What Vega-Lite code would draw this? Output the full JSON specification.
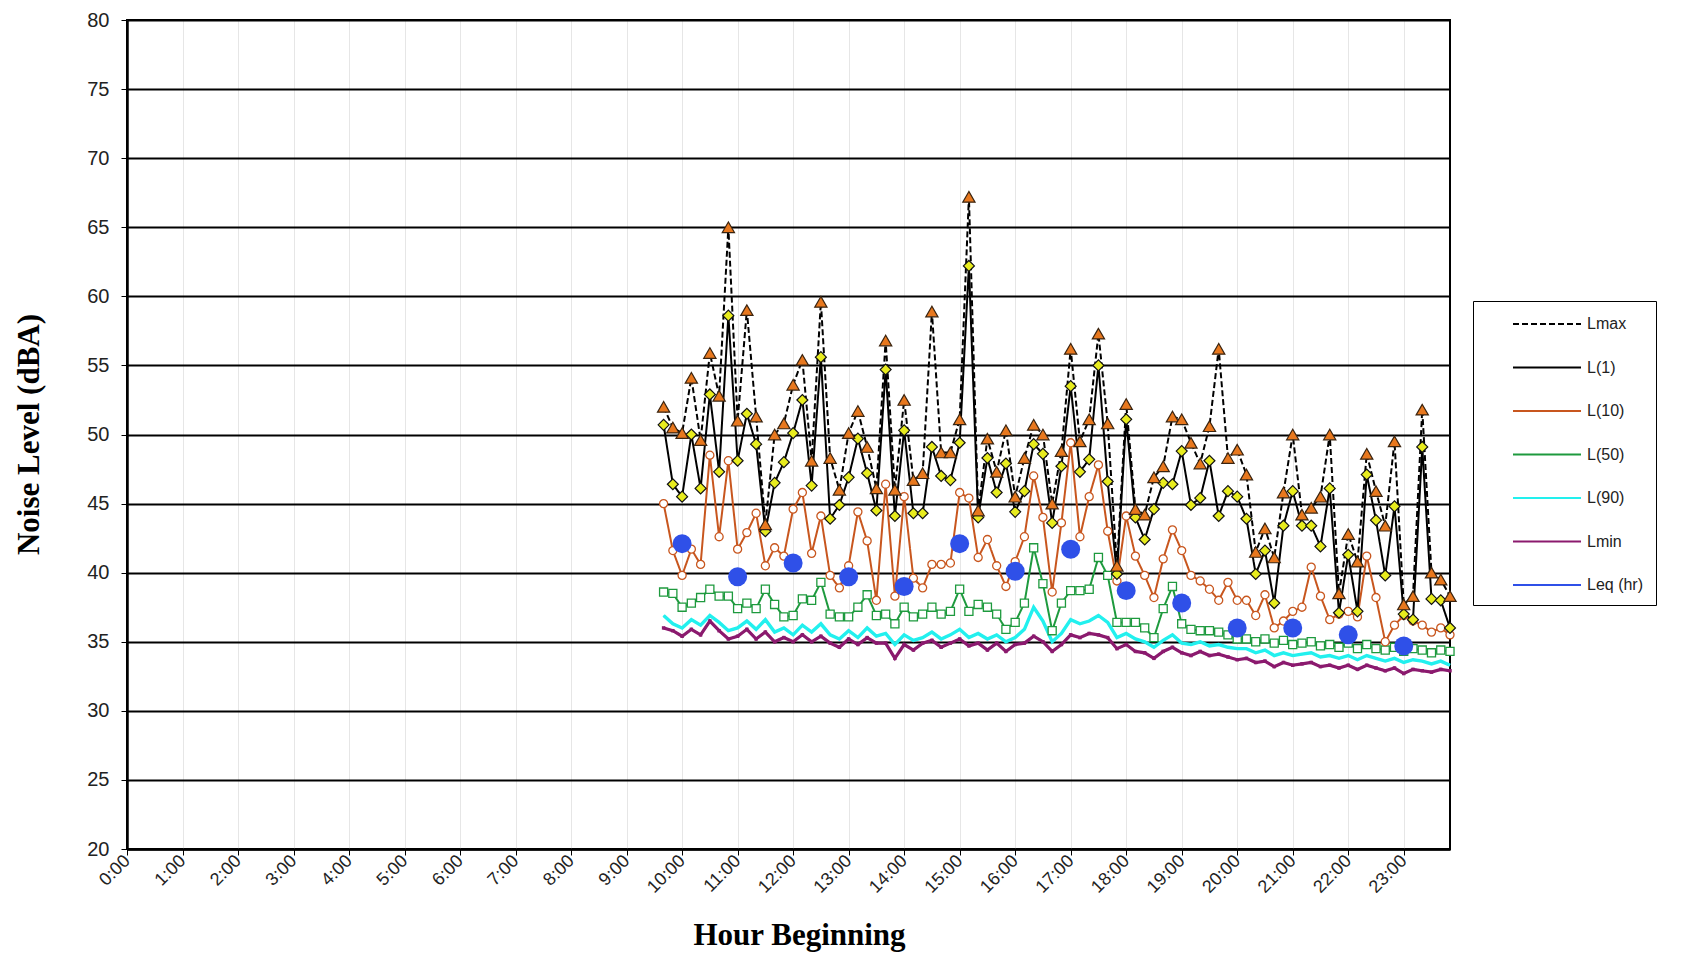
{
  "$schema": "https://vega.github.io/schema/vega-lite/v6.json",
  "width": 1323,
  "height": 829,
  "autosize": "none",
  "padding": {"left": 127, "top": 20, "right": 240, "bottom": 108},
  "background": "white",
  "config": {
    "view": {"stroke": "black", "strokeWidth": 2}
  },
  "datasets": {
    "levels": [
      {"minute": 580, "Lmax": 52.0, "L1": 50.7, "L10": 45.0, "L50": 38.6, "L90": 36.9, "Lmin": 36.0},
      {"minute": 590, "Lmax": 50.5, "L1": 46.4, "L10": 41.6, "L50": 38.5, "L90": 36.3, "Lmin": 35.8},
      {"minute": 600, "Lmax": 50.1, "L1": 45.5, "L10": 39.8, "L50": 37.5, "L90": 36.0, "Lmin": 35.4},
      {"minute": 610, "Lmax": 54.1, "L1": 50.0, "L10": 41.7, "L50": 37.8, "L90": 36.6, "Lmin": 35.9},
      {"minute": 620, "Lmax": 49.6, "L1": 46.1, "L10": 40.6, "L50": 38.2, "L90": 36.2, "Lmin": 35.5},
      {"minute": 630, "Lmax": 55.9, "L1": 52.9, "L10": 48.5, "L50": 38.8, "L90": 36.9, "Lmin": 36.5},
      {"minute": 640, "Lmax": 52.8, "L1": 47.3, "L10": 42.6, "L50": 38.3, "L90": 36.4, "Lmin": 35.8},
      {"minute": 650, "Lmax": 65.0, "L1": 58.6, "L10": 48.1, "L50": 38.3, "L90": 35.8, "Lmin": 35.2},
      {"minute": 660, "Lmax": 51.0, "L1": 48.1, "L10": 41.7, "L50": 37.4, "L90": 36.0, "Lmin": 35.4},
      {"minute": 670, "Lmax": 59.0, "L1": 51.5, "L10": 42.9, "L50": 37.8, "L90": 36.5, "Lmin": 35.9},
      {"minute": 680, "Lmax": 51.3, "L1": 49.3, "L10": 44.3, "L50": 37.4, "L90": 35.9, "Lmin": 35.2},
      {"minute": 690, "Lmax": 43.5, "L1": 43.0, "L10": 40.5, "L50": 38.8, "L90": 36.6, "Lmin": 35.7},
      {"minute": 700, "Lmax": 50.0, "L1": 46.5, "L10": 41.8, "L50": 37.7, "L90": 35.7, "Lmin": 35.0},
      {"minute": 710, "Lmax": 50.8, "L1": 48.0, "L10": 41.2, "L50": 36.8, "L90": 36.0, "Lmin": 35.3},
      {"minute": 720, "Lmax": 53.6, "L1": 50.1, "L10": 44.6, "L50": 36.9, "L90": 35.5, "Lmin": 35.0},
      {"minute": 730, "Lmax": 55.4, "L1": 52.5, "L10": 45.8, "L50": 38.1, "L90": 36.2, "Lmin": 35.5},
      {"minute": 740, "Lmax": 48.1, "L1": 46.3, "L10": 41.4, "L50": 38.0, "L90": 35.7, "Lmin": 35.0},
      {"minute": 750, "Lmax": 59.6, "L1": 55.6, "L10": 44.1, "L50": 39.3, "L90": 36.3, "Lmin": 35.4},
      {"minute": 760, "Lmax": 48.3, "L1": 43.9, "L10": 39.8, "L50": 37.0, "L90": 35.5, "Lmin": 34.9},
      {"minute": 770, "Lmax": 46.0, "L1": 44.9, "L10": 38.9, "L50": 36.8, "L90": 35.2, "Lmin": 34.6},
      {"minute": 780, "Lmax": 50.1, "L1": 46.9, "L10": 40.5, "L50": 36.8, "L90": 35.8, "Lmin": 35.2},
      {"minute": 790, "Lmax": 51.7, "L1": 49.7, "L10": 44.4, "L50": 37.5, "L90": 35.3, "Lmin": 34.8},
      {"minute": 800, "Lmax": 49.1, "L1": 47.2, "L10": 42.3, "L50": 38.4, "L90": 36.0, "Lmin": 35.3},
      {"minute": 810, "Lmax": 46.1, "L1": 44.5, "L10": 38.0, "L50": 36.9, "L90": 35.4, "Lmin": 34.9},
      {"minute": 820, "Lmax": 56.8, "L1": 54.7, "L10": 46.4, "L50": 37.0, "L90": 35.6, "Lmin": 34.9},
      {"minute": 830, "Lmax": 46.0, "L1": 44.1, "L10": 38.3, "L50": 36.3, "L90": 34.8, "Lmin": 33.8},
      {"minute": 840, "Lmax": 52.5, "L1": 50.3, "L10": 45.5, "L50": 37.5, "L90": 35.5, "Lmin": 34.8},
      {"minute": 850, "Lmax": 46.7, "L1": 44.3, "L10": 39.6, "L50": 36.8, "L90": 35.1, "Lmin": 34.4},
      {"minute": 860, "Lmax": 47.2, "L1": 44.3, "L10": 38.9, "L50": 37.0, "L90": 35.3, "Lmin": 34.9},
      {"minute": 870, "Lmax": 58.9, "L1": 49.1, "L10": 40.6, "L50": 37.5, "L90": 35.7, "Lmin": 35.1},
      {"minute": 880, "Lmax": 48.7, "L1": 47.0, "L10": 40.6, "L50": 37.0, "L90": 35.2, "Lmin": 34.6},
      {"minute": 890, "Lmax": 48.7, "L1": 46.7, "L10": 40.7, "L50": 37.2, "L90": 35.5, "Lmin": 34.9},
      {"minute": 900, "Lmax": 51.1, "L1": 49.4, "L10": 45.8, "L50": 38.8, "L90": 35.9, "Lmin": 35.2},
      {"minute": 910, "Lmax": 67.2, "L1": 62.2, "L10": 45.4, "L50": 37.2, "L90": 35.3, "Lmin": 34.7},
      {"minute": 920, "Lmax": 44.5, "L1": 44.0, "L10": 41.1, "L50": 37.7, "L90": 35.6, "Lmin": 34.9},
      {"minute": 930, "Lmax": 49.7, "L1": 48.3, "L10": 42.4, "L50": 37.5, "L90": 35.2, "Lmin": 34.4},
      {"minute": 940, "Lmax": 47.3, "L1": 45.8, "L10": 40.5, "L50": 37.0, "L90": 35.5, "Lmin": 34.9},
      {"minute": 950, "Lmax": 50.3, "L1": 47.9, "L10": 39.0, "L50": 35.9, "L90": 35.0, "Lmin": 34.3},
      {"minute": 960, "Lmax": 45.5, "L1": 44.4, "L10": 40.8, "L50": 36.4, "L90": 35.3, "Lmin": 34.8},
      {"minute": 970, "Lmax": 48.3, "L1": 45.9, "L10": 42.6, "L50": 37.8, "L90": 35.9, "Lmin": 34.9},
      {"minute": 980, "Lmax": 50.7, "L1": 49.3, "L10": 47.0, "L50": 41.8, "L90": 37.5, "Lmin": 35.4},
      {"minute": 990, "Lmax": 50.0, "L1": 48.6, "L10": 44.0, "L50": 39.2, "L90": 36.5, "Lmin": 35.0},
      {"minute": 1000, "Lmax": 45.0, "L1": 43.6, "L10": 38.6, "L50": 35.8, "L90": 35.0, "Lmin": 34.3},
      {"minute": 1010, "Lmax": 48.8, "L1": 47.7, "L10": 43.6, "L50": 37.8, "L90": 35.6, "Lmin": 34.8},
      {"minute": 1020, "Lmax": 56.2, "L1": 53.5, "L10": 49.4, "L50": 38.7, "L90": 36.6, "Lmin": 35.5},
      {"minute": 1030, "Lmax": 49.5, "L1": 47.3, "L10": 42.6, "L50": 38.7, "L90": 36.3, "Lmin": 35.3},
      {"minute": 1040, "Lmax": 51.1, "L1": 48.2, "L10": 45.5, "L50": 38.8, "L90": 36.5, "Lmin": 35.6},
      {"minute": 1050, "Lmax": 57.3, "L1": 55.0, "L10": 47.8, "L50": 41.1, "L90": 36.9, "Lmin": 35.5},
      {"minute": 1060, "Lmax": 50.8, "L1": 46.6, "L10": 43.0, "L50": 39.8, "L90": 36.4, "Lmin": 35.3},
      {"minute": 1070, "Lmax": 40.5, "L1": 39.9, "L10": 39.4, "L50": 36.4, "L90": 35.3, "Lmin": 34.5},
      {"minute": 1080, "Lmax": 52.2, "L1": 51.1, "L10": 44.1, "L50": 36.4, "L90": 35.6, "Lmin": 34.8},
      {"minute": 1090, "Lmax": 44.6, "L1": 44.0, "L10": 41.2, "L50": 36.4, "L90": 35.2, "Lmin": 34.3},
      {"minute": 1100, "Lmax": 44.2, "L1": 42.4, "L10": 39.8, "L50": 36.0, "L90": 35.0, "Lmin": 34.2},
      {"minute": 1110, "Lmax": 46.9, "L1": 44.6, "L10": 38.2, "L50": 35.3, "L90": 34.6, "Lmin": 33.8},
      {"minute": 1120, "Lmax": 47.7, "L1": 46.5, "L10": 41.0, "L50": 37.4, "L90": 35.1, "Lmin": 34.3},
      {"minute": 1130, "Lmax": 51.3, "L1": 46.4, "L10": 43.1, "L50": 39.0, "L90": 35.5, "Lmin": 34.6},
      {"minute": 1140, "Lmax": 51.1, "L1": 48.8, "L10": 41.6, "L50": 36.3, "L90": 34.9, "Lmin": 34.2},
      {"minute": 1150, "Lmax": 49.4, "L1": 44.9, "L10": 39.8, "L50": 35.9, "L90": 34.8, "Lmin": 34.0},
      {"minute": 1160, "Lmax": 47.9, "L1": 45.4, "L10": 39.4, "L50": 35.8, "L90": 35.0, "Lmin": 34.3},
      {"minute": 1170, "Lmax": 50.6, "L1": 48.1, "L10": 38.8, "L50": 35.8, "L90": 34.7, "Lmin": 34.0},
      {"minute": 1180, "Lmax": 56.2, "L1": 44.1, "L10": 38.0, "L50": 35.7, "L90": 34.8, "Lmin": 34.1},
      {"minute": 1190, "Lmax": 48.3, "L1": 45.9, "L10": 39.3, "L50": 35.5, "L90": 34.6, "Lmin": 33.9},
      {"minute": 1200, "Lmax": 48.9, "L1": 45.5, "L10": 38.0, "L50": 35.2, "L90": 34.5, "Lmin": 33.7},
      {"minute": 1210, "Lmax": 47.1, "L1": 43.9, "L10": 38.0, "L50": 35.2, "L90": 34.5, "Lmin": 33.8},
      {"minute": 1220, "Lmax": 41.5, "L1": 39.9, "L10": 36.9, "L50": 35.0, "L90": 34.2, "Lmin": 33.5},
      {"minute": 1230, "Lmax": 43.2, "L1": 41.6, "L10": 38.4, "L50": 35.2, "L90": 34.4, "Lmin": 33.6},
      {"minute": 1240, "Lmax": 41.1, "L1": 37.8, "L10": 36.0, "L50": 34.9, "L90": 34.0, "Lmin": 33.2},
      {"minute": 1250, "Lmax": 45.8, "L1": 43.4, "L10": 36.5, "L50": 35.1, "L90": 34.2, "Lmin": 33.5},
      {"minute": 1260, "Lmax": 50.0, "L1": 45.9, "L10": 37.2, "L50": 34.8, "L90": 34.0, "Lmin": 33.3},
      {"minute": 1270, "Lmax": 44.2, "L1": 43.4, "L10": 37.5, "L50": 34.9, "L90": 34.1, "Lmin": 33.4},
      {"minute": 1280, "Lmax": 44.7, "L1": 43.4, "L10": 40.4, "L50": 35.0, "L90": 34.2, "Lmin": 33.5},
      {"minute": 1290, "Lmax": 45.5, "L1": 41.9, "L10": 38.3, "L50": 34.7, "L90": 33.9, "Lmin": 33.2},
      {"minute": 1300, "Lmax": 50.0, "L1": 46.1, "L10": 36.6, "L50": 34.8, "L90": 34.0, "Lmin": 33.3},
      {"minute": 1310, "Lmax": 38.5, "L1": 37.1, "L10": 37.0, "L50": 34.6, "L90": 33.8, "Lmin": 33.1},
      {"minute": 1320, "Lmax": 42.8, "L1": 41.3, "L10": 37.2, "L50": 34.9, "L90": 34.0, "Lmin": 33.3},
      {"minute": 1330, "Lmax": 40.8, "L1": 37.2, "L10": 36.8, "L50": 34.5, "L90": 33.7, "Lmin": 33.0},
      {"minute": 1340, "Lmax": 48.6, "L1": 47.1, "L10": 41.2, "L50": 34.8, "L90": 34.0, "Lmin": 33.3},
      {"minute": 1350, "Lmax": 45.9, "L1": 43.8, "L10": 38.2, "L50": 34.5, "L90": 33.8, "Lmin": 33.1},
      {"minute": 1360, "Lmax": 43.4, "L1": 39.8, "L10": 35.0, "L50": 34.4, "L90": 33.6, "Lmin": 32.9},
      {"minute": 1370, "Lmax": 49.5, "L1": 44.8, "L10": 36.2, "L50": 34.6, "L90": 33.8, "Lmin": 33.1},
      {"minute": 1380, "Lmax": 37.7, "L1": 37.0, "L10": 36.9, "L50": 34.3, "L90": 33.5, "Lmin": 32.7},
      {"minute": 1390, "Lmax": 38.3, "L1": 36.6, "L10": 36.5, "L50": 34.5, "L90": 33.7, "Lmin": 33.0},
      {"minute": 1400, "Lmax": 51.8, "L1": 49.1, "L10": 36.2, "L50": 34.4, "L90": 33.6, "Lmin": 32.9},
      {"minute": 1410, "Lmax": 40.0, "L1": 38.1, "L10": 35.7, "L50": 34.2, "L90": 33.4, "Lmin": 32.8},
      {"minute": 1420, "Lmax": 39.5, "L1": 38.0, "L10": 36.0, "L50": 34.4, "L90": 33.6, "Lmin": 33.0},
      {"minute": 1430, "Lmax": 38.3, "L1": 36.0, "L10": 35.5, "L50": 34.3, "L90": 33.3, "Lmin": 32.9}
    ],
    "leq": [
      {"minute": 600, "Leq": 42.1},
      {"minute": 660, "Leq": 39.7},
      {"minute": 720, "Leq": 40.7},
      {"minute": 780, "Leq": 39.7},
      {"minute": 840, "Leq": 39.0},
      {"minute": 900, "Leq": 42.1},
      {"minute": 960, "Leq": 40.1},
      {"minute": 1020, "Leq": 41.7},
      {"minute": 1080, "Leq": 38.7},
      {"minute": 1140, "Leq": 37.8},
      {"minute": 1200, "Leq": 36.0},
      {"minute": 1260, "Leq": 36.0},
      {"minute": 1320, "Leq": 35.5},
      {"minute": 1380, "Leq": 34.7}
    ]
  },
  "data": {"name": "levels"},
  "encoding": {
    "x": {
      "field": "minute",
      "type": "quantitative",
      "title": "Hour Beginning",
      "scale": {"domain": [0, 1430], "nice": false, "zero": false},
      "axis": {
        "values": [0, 60, 120, 180, 240, 300, 360, 420, 480, 540, 600, 660, 720, 780, 840, 900, 960, 1020, 1080, 1140, 1200, 1260, 1320, 1380],
        "labelExpr": "floor(datum.value / 60) + ':00'",
        "labelAngle": -45,
        "labelAlign": "right",
        "labelBaseline": "middle",
        "labelFont": "Liberation Sans",
        "labelFontSize": 18,
        "labelColor": "#222222",
        "labelPadding": 3,
        "labelFlush": false,
        "labelOverlap": false,
        "tickColor": "black",
        "tickSize": 6,
        "domainColor": "black",
        "domainWidth": 2.5,
        "grid": true,
        "gridColor": "#e6e6e6",
        "titleFont": "Liberation Serif",
        "titleFontSize": 31,
        "titleFontWeight": "bold",
        "titleColor": "black",
        "titleX": 672,
        "titleY": 86,
        "titleAlign": "center",
        "titleBaseline": "middle"
      }
    },
    "y": {
      "field": "level",
      "type": "quantitative",
      "title": "Noise Level (dBA)",
      "scale": {"domain": [20, 80], "nice": false, "zero": false},
      "axis": {
        "values": [20, 25, 30, 35, 40, 45, 50, 55, 60, 65, 70, 75, 80],
        "labelFont": "Liberation Sans",
        "labelFontSize": 20,
        "labelColor": "#222222",
        "labelPadding": 12,
        "tickColor": "black",
        "tickSize": 6,
        "domainColor": "black",
        "domainWidth": 2.5,
        "grid": true,
        "gridColor": "black",
        "gridWidth": 2.2,
        "titleFont": "Liberation Serif",
        "titleFontSize": 31,
        "titleFontWeight": "bold",
        "titleColor": "black",
        "titleAngle": -90,
        "titleX": -98,
        "titleY": 414,
        "titleAlign": "center",
        "titleBaseline": "middle"
      }
    }
  },
  "layer": [
    {
      "transform": [{"fold": ["Lmin", "L90", "L50", "L10", "L1", "Lmax"], "as": ["series", "level"]}],
      "mark": {"type": "line", "strokeWidth": 2},
      "encoding": {
        "stroke": {
          "field": "series",
          "type": "nominal",
          "scale": {
            "domain": ["Lmax", "L1", "L10", "L50", "L90", "Lmin", "Leq (hr)"],
            "range": ["#000000", "#000000", "#C8561E", "#1E9A3E", "#22F0EE", "#8B1A6E", "#2F50E8"]
          },
          "legend": {
            "orient": "none",
            "legendX": 1346,
            "legendY": 281,
            "title": null,
            "strokeColor": "black",
            "fillColor": "white",
            "padding": 12,
            "symbolSize": 400,
            "rowPadding": 24.5,
            "symbolOffset": 51,
            "labelOffset": 29,
            "labelFont": "Liberation Sans",
            "labelFontSize": 16,
            "labelColor": "#222222",
            "symbolStrokeWidth": 2,
            "symbolType": "M-3.4,0H3.4",
            "labelExpr": "datum.label === 'L1' ? 'L(1)' : datum.label === 'L10' ? 'L(10)' : datum.label === 'L50' ? 'L(50)' : datum.label === 'L90' ? 'L(90)' : datum.label"
          }
        },
        "strokeDash": {
          "field": "series",
          "type": "nominal",
          "scale": {
            "domain": ["Lmax", "L1", "L10", "L50", "L90", "Lmin", "Leq (hr)"],
            "range": [[6, 3], [1, 0], [1, 0], [1, 0], [1, 0], [1, 0], [1, 0]]
          }
        }
      }
    },
    {
      "transform": [{"fold": ["Lmin"], "as": ["series", "level"]}],
      "mark": {"type": "line", "strokeWidth": 3.2, "stroke": "#8B1A6E"},
      "encoding": {}
    },
    {
      "transform": [{"fold": ["L90"], "as": ["series", "level"]}],
      "mark": {"type": "line", "strokeWidth": 3.4, "stroke": "#22F0EE"},
      "encoding": {}
    },
    {
      "transform": [{"fold": ["Lmin"], "as": ["series", "level"]}],
      "mark": {"type": "square", "size": 12, "color": "#8B1A6E", "opacity": 1},
      "encoding": {}
    },
    {
      "transform": [{"fold": ["L50"], "as": ["series", "level"]}],
      "mark": {"type": "point", "shape": "square", "size": 65, "filled": true, "fill": "white", "stroke": "#1E9A3E", "strokeWidth": 1.3, "opacity": 1},
      "encoding": {}
    },
    {
      "transform": [{"fold": ["L10"], "as": ["series", "level"]}],
      "mark": {"type": "point", "shape": "circle", "size": 65, "filled": true, "fill": "white", "stroke": "#C8561E", "strokeWidth": 1.3, "opacity": 1},
      "encoding": {}
    },
    {
      "transform": [{"fold": ["L1"], "as": ["series", "level"]}],
      "mark": {"type": "point", "shape": "diamond", "size": 120, "filled": true, "fill": "#E8EC1E", "stroke": "#111111", "strokeWidth": 1.2, "opacity": 1},
      "encoding": {}
    },
    {
      "transform": [{"fold": ["Lmax"], "as": ["series", "level"]}],
      "mark": {"type": "point", "shape": "triangle-up", "size": 150, "filled": true, "fill": "#E8781E", "stroke": "#3a2410", "strokeWidth": 1.2, "opacity": 1},
      "encoding": {}
    },
    {
      "data": {"name": "leq"},
      "transform": [{"fold": ["Leq"], "as": ["series", "level"]}],
      "mark": {"type": "point", "shape": "circle", "size": 360, "filled": true, "fill": "#2F50E8", "strokeWidth": 0, "opacity": 1},
      "encoding": {}
    }
  ]
}
